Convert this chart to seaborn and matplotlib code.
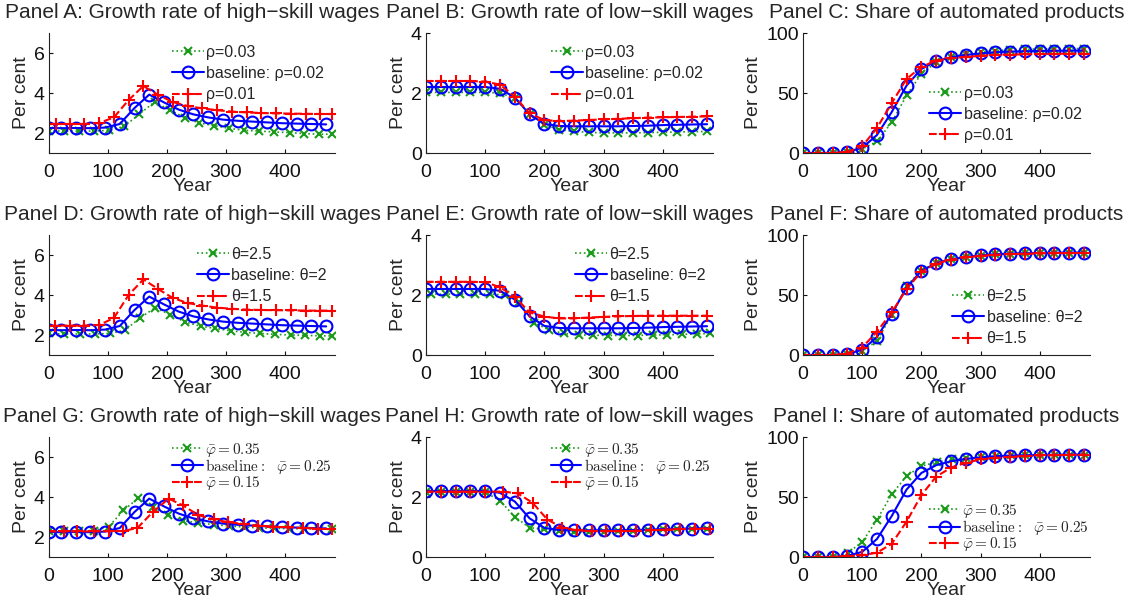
import matplotlib
matplotlib.use("Agg")
import matplotlib.pyplot as plt
import pandas as pd
import seaborn as sns

# ---------------------------------------------------------------- data
years = [0, 25, 50, 75, 100, 125, 150, 175, 200, 225, 250, 275, 300, 325,
         350, 375, 400, 425, 450, 475]

# baseline paths
base_high_x = [0, 20, 45, 70, 95, 120, 145, 170, 195, 220, 245, 270, 295,
               320, 345, 370, 395, 420, 445, 470]
base_high = [2.25, 2.24, 2.25, 2.24, 2.27, 2.45, 3.25, 3.92, 3.53, 3.17,
             2.93, 2.78, 2.67, 2.61, 2.57, 2.53, 2.49, 2.47, 2.45, 2.43]
base_low = [2.2, 2.2, 2.2, 2.2, 2.2, 2.14, 1.85, 1.29, 0.97, 0.9, 0.89, 0.89,
            0.89, 0.89, 0.9, 0.91, 0.93, 0.94, 0.95, 0.96]
base_share = [0, 0, 0, 0.9, 4.3, 15, 34.2, 56.2, 70, 76.5, 79.8, 81.7, 83,
              84, 84.5, 84.8, 85, 85.2, 85.3, 85.4]

# discount rate rho
rho_hi_high_x = [0, 25, 51, 77, 102, 128, 153, 179, 205, 230, 255, 280, 306,
                 331, 356, 382, 408, 433, 458, 480]
rho_hi_high = [2.1, 2.1, 2.1, 2.1, 2.13, 2.34, 2.94, 3.55, 3.15, 2.77, 2.5,
               2.37, 2.23, 2.13, 2.1, 2.05, 2.02, 1.97, 1.94, 1.94]
rho_lo_high_x = [0, 12, 35, 60, 85, 110, 135, 160, 185, 210, 235, 260, 285,
                 310, 335, 360, 385, 410, 435, 460, 480]
rho_lo_high = [2.45, 2.45, 2.45, 2.45, 2.5, 2.78, 3.65, 4.35, 3.9, 3.55,
               3.35, 3.23, 3.14, 3.07, 3.03, 3.0, 2.98, 2.97, 2.96, 2.95,
               2.95]
rho_hi_low = [2.02, 2.02, 2.02, 2.02, 2.02, 2.0, 1.83, 1.3, 0.95, 0.78, 0.72,
              0.69, 0.67, 0.67, 0.67, 0.68, 0.69, 0.7, 0.71, 0.72]
rho_lo_low = [2.4, 2.4, 2.4, 2.4, 2.38, 2.28, 1.88, 1.32, 1.1, 1.06, 1.08,
              1.1, 1.12, 1.14, 1.16, 1.18, 1.19, 1.2, 1.21, 1.22]
rho_hi_share = [0, 0, 0, 0.6, 3.3, 9.7, 25.6, 48, 66, 75.5, 80, 82.8, 84.2,
                85.3, 86, 86.5, 86.7, 86.9, 87, 87]
rho_lo_share = [0, 0, 0, 0.8, 5.6, 20.8, 41.7, 61.7, 71.7, 77, 79, 80, 81,
                81.8, 82, 82.2, 82.5, 82.6, 82.8, 82.8]

# elasticity theta
th_hi_high_x = [0, 26, 52, 78, 103, 129, 154, 180, 206, 231, 257, 282, 308,
                333, 358, 384, 410, 434, 459, 480]
th_hi_high = [2.08, 2.05, 2.05, 2.05, 2.08, 2.24, 2.85, 3.36, 3.01, 2.65,
              2.44, 2.33, 2.21, 2.13, 2.08, 2.03, 2.0, 1.98, 1.96, 1.95]
th_lo_high_x = [0, 10, 35, 60, 85, 110, 135, 160, 185, 210, 235, 260, 285,
                310, 335, 360, 385, 410, 435, 460, 480]
th_lo_high = [2.45, 2.47, 2.47, 2.47, 2.5, 2.85, 4.0, 4.78, 4.3, 3.85, 3.6,
              3.47, 3.37, 3.31, 3.27, 3.25, 3.24, 3.23, 3.22, 3.22, 3.22]
th_hi_low_x = [8, 33, 58, 83, 108, 133, 158, 183, 208, 233, 258, 283, 308,
               333, 358, 383, 408, 433, 458, 480]
th_hi_low = [2.03, 2.03, 2.03, 2.03, 2.03, 2.0, 1.78, 1.08, 0.83, 0.72, 0.67,
             0.66, 0.65, 0.65, 0.65, 0.67, 0.67, 0.69, 0.7, 0.72]
th_lo_low = [2.44, 2.44, 2.44, 2.44, 2.43, 2.26, 1.94, 1.42, 1.28, 1.22,
             1.22, 1.25, 1.27, 1.29, 1.3, 1.31, 1.31, 1.31, 1.31, 1.31]
th_hi_share = [0, 0, 0, 0.8, 3.2, 11.8, 33.5, 57.5, 70.4, 76.8, 79.8, 81.6,
               82.9, 83.9, 84.4, 84.7, 84.9, 85.1, 85.2, 85.3]
th_lo_share = [0, 0, 0, 1.2, 6.2, 19.5, 35.5, 55, 69.2, 76.2, 79.5, 81.3,
               82.6, 83.6, 84.1, 84.4, 84.6, 84.8, 84.9, 85]

# automation cost phi-bar
ph_hi_high_x = [0, 26, 51, 76, 101, 126, 151, 176, 202, 227, 253, 279, 305,
                330, 356, 381, 407, 432, 458, 480]
ph_hi_high = [2.28, 2.3, 2.3, 2.32, 2.5, 3.33, 3.93, 3.5, 3.1, 2.82, 2.7,
              2.62, 2.55, 2.5, 2.46, 2.43, 2.42, 2.41, 2.4, 2.38]
ph_lo_high_x = [0, 25, 48, 76, 101, 126, 150, 176, 203, 227, 253, 279, 304,
                330, 355, 380, 405, 431, 456, 480]
ph_lo_high = [2.28, 2.28, 2.28, 2.28, 2.29, 2.3, 2.45, 3.25, 3.92, 3.58,
              3.1, 2.88, 2.74, 2.65, 2.57, 2.52, 2.48, 2.45, 2.42, 2.38]
ph_hi_low = [2.18, 2.18, 2.18, 2.18, 2.16, 1.88, 1.34, 0.98, 0.92, 0.86,
             0.84, 0.84, 0.84, 0.86, 0.87, 0.89, 0.92, 0.94, 0.95, 0.95]
ph_lo_low_x = [0, 25, 50, 75, 100, 130, 155, 180, 205, 230, 255, 280, 305,
               330, 355, 380, 405, 430, 455, 480]
ph_lo_low = [2.18, 2.18, 2.18, 2.18, 2.18, 2.18, 2.12, 1.81, 1.25, 0.98,
             0.89, 0.86, 0.86, 0.86, 0.87, 0.89, 0.91, 0.93, 0.95, 0.95]
ph_hi_share_x = [0, 26, 51, 76, 100, 125, 150, 175, 200, 226, 251, 276, 301,
                 326, 351, 376, 401, 426, 451, 477]
ph_hi_share = [0, 0, 0, 3.6, 12.4, 31.1, 52.3, 67.5, 75.8, 79.1, 81.3, 82.3,
               83.5, 84, 84.6, 84.8, 85, 85.2, 85.4, 85.4]
ph_lo_share = [0, 0, 0, 0.8, 1.4, 3.6, 11, 29.5, 51.5, 67, 74.4, 78.5, 81.3,
               82.6, 83.5, 84, 84.6, 84.8, 85.1, 85.4]

rho_labels = ["\u03c1=0.03", "baseline: \u03c1=0.02", "\u03c1=0.01"]
theta_labels = ["\u03b8=2.5", "baseline: \u03b8=2", "\u03b8=1.5"]
phi_labels = [r"$\bar{\varphi}{=}0.35$",
              r"$\mathrm{baseline}{:}\ \ \bar{\varphi}{=}0.25$",
              r"$\bar{\varphi}{=}0.15$"]

titles_high = "Growth rate of high\u2212skill wages"
titles_low = "Growth rate of low\u2212skill wages"
titles_share = "Share of automated products"

# ---------------------------------------------------------------- style
sns.set_theme(style="ticks")
plt.rcParams.update({
    "font.family": ["Liberation Sans", "DejaVu Sans"],
    "mathtext.fontset": "cm",
    "axes.linewidth": 0.8,
    "axes.edgecolor": "#222222",
    "xtick.direction": "in",
    "ytick.direction": "in",
    "xtick.major.size": 3,
    "ytick.major.size": 3,
    "xtick.major.width": 0.8,
    "ytick.major.width": 0.8,
    "xtick.labelsize": 14,
    "ytick.labelsize": 14,
    "xtick.color": "#111111",
    "ytick.color": "#111111",
})

GREEN = "#1c9a1c"
BLUE = "#0000ff"
RED = "#ff0000"

line_styles = [
    dict(color=GREEN, linestyle=":", marker="x", markersize=6,
         markeredgewidth=1.5, markeredgecolor=GREEN, linewidth=1.2),
    dict(color=BLUE, linestyle="-", marker="o", markersize=8.5,
         markerfacecolor="none", markeredgewidth=1.5, markeredgecolor=BLUE,
         linewidth=1.5),
    dict(color=RED, linestyle="--", marker="+", markersize=9,
         markeredgewidth=1.5, markeredgecolor=RED, linewidth=1.5),
]

fig = plt.figure(figsize=(11.28, 6.05), dpi=100)
W, H = 1128.0, 605.0
col_left = [49, 426, 803]
col_width = [286, 287, 287]
row_top = [33, 235, 437]
ax_h = 120

panels = [
    # (letter, title, series [(x, y) x3], labels, ylim, yticks, legend anchor,
    #  label spacing, legend font size)
    ("A", titles_high, [(rho_hi_high_x, rho_hi_high), (base_high_x, base_high),
                        (rho_lo_high_x, rho_lo_high)], rho_labels,
     (1, 7), [2, 4, 6], (0.43, 0.90), 0.38, 11.5),
    ("B", titles_low, [(years, rho_hi_low), (years, base_low),
                       (years, rho_lo_low)], rho_labels,
     (0, 4), [0, 2, 4], (0.435, 0.90), 0.38, 11.5),
    ("C", titles_share, [(years, rho_hi_share), (years, base_share),
                         (years, rho_lo_share)], rho_labels,
     (0, 100), [0, 50, 100], (0.44, 0.56), 0.38, 11.5),
    ("D", titles_high, [(th_hi_high_x, th_hi_high), (base_high_x, base_high),
                        (th_lo_high_x, th_lo_high)], theta_labels,
     (1, 7), [2, 4, 6], (0.517, 0.90), 0.38, 11.5),
    ("E", titles_low, [(th_hi_low_x, th_hi_low), (years, base_low),
                       (years, th_lo_low)], theta_labels,
     (0, 4), [0, 2, 4], (0.52, 0.90), 0.38, 11.5),
    ("F", titles_share, [(years, th_hi_share), (years, base_share),
                         (years, th_lo_share)], theta_labels,
     (0, 100), [0, 50, 100], (0.52, 0.55), 0.38, 11.5),
    ("G", titles_high, [(ph_hi_high_x, ph_hi_high), (base_high_x, base_high),
                        (ph_lo_high_x, ph_lo_high)], phi_labels,
     (1, 7), [2, 4, 6], (0.43, 0.97), -0.12, 11),
    ("H", titles_low, [(years, ph_hi_low), (years, base_low),
                       (ph_lo_low_x, ph_lo_low)], phi_labels,
     (0, 4), [0, 2, 4], (0.435, 0.97), -0.12, 11),
    ("I", titles_share, [(ph_hi_share_x, ph_hi_share), (years, base_share),
                         (years, ph_lo_share)], phi_labels,
     (0, 100), [0, 50, 100], (0.44, 0.46), -0.12, 11),
]

for i, (letter, title, series, labels, ylim, yticks, anchor, spacing,
        leg_fs) in enumerate(panels):
    r, c = divmod(i, 3)
    left = col_left[c] / W
    bottom = 1 - (row_top[r] + ax_h) / H
    ax = fig.add_axes([left, bottom, col_width[c] / W, ax_h / H])

    for (xs, ys), lab, st in zip(series, labels, line_styles):
        df = pd.DataFrame({"Year": xs, "value": ys})
        sns.lineplot(data=df, x="Year", y="value", ax=ax, sort=False,
                     label=lab, **st)

    ax.set_xlim(0, 485)
    ax.set_ylim(*ylim)
    ax.set_xticks([0, 100, 200, 300, 400])
    ax.set_yticks(yticks)
    ax.tick_params(axis="x", pad=8)
    ax.tick_params(axis="y", pad=3)
    sns.despine(ax=ax)
    ax.set_xlabel("Year", fontsize=14, labelpad=-2)
    ax.set_ylabel("Per cent", fontsize=14, labelpad=3)
    ax.set_title(f"Panel {letter}: {title}", fontsize=15, pad=11)

    ax.legend(loc="upper left", bbox_to_anchor=anchor, frameon=False,
              fontsize=leg_fs, borderpad=0, borderaxespad=0,
              handlelength=2.0, handletextpad=0.15, labelspacing=spacing)

fig.savefig("out.png", dpi=100)
